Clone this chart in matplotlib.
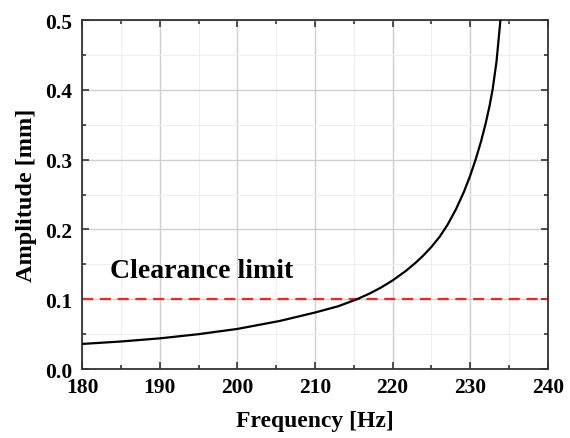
import matplotlib

matplotlib.use("Agg")
import matplotlib.pyplot as plt  # noqa: E402
from matplotlib.ticker import MultipleLocator  # noqa: E402

# Valores
freq = [180, 185, 190, 195, 200, 205.5, 210, 213, 215.4, 217.0, 218.5,
        220.0, 221.7, 223.0, 224.0, 225.0, 226.1, 227.1, 228.2, 229.2,
        230.0, 230.7, 231.4, 232.0, 232.5, 232.9, 233.4, 233.9]
amplitude = [0.036, 0.0395, 0.044, 0.050, 0.0575, 0.069, 0.081, 0.090,
             0.100, 0.108, 0.1167, 0.1269, 0.1405, 0.1526, 0.1631, 0.1749,
             0.190, 0.207, 0.2296, 0.254, 0.277, 0.300, 0.326, 0.352,
             0.377, 0.401, 0.441, 0.500]
clearance_limit = 0.1
x_ticks = [180, 190, 200, 210, 220, 230, 240]
y_ticks = [0.0, 0.1, 0.2, 0.3, 0.4, 0.5]

plt.rcParams["font.family"] = ["Liberation Serif", "DejaVu Serif"]
plt.rcParams["font.weight"] = "bold"

fig = plt.figure(figsize=(5.7, 4.39), dpi=100)
ax = fig.add_axes([0.144, 0.157, 0.817, 0.795])

ax.plot(freq, amplitude, color="black", lw=1.6, zorder=3,
        solid_joinstyle="round")
ax.axhline(clearance_limit, color="#ff2020", lw=1.6, ls=(0, (5, 3)), zorder=2)
ax.text(183.6, 0.141, "Clearance limit", fontsize=20, fontweight="bold",
        va="center", ha="left")

ax.set_xlim(180, 240)
ax.set_ylim(0, 0.5)
ax.set_xticks(x_ticks)
ax.set_yticks(y_ticks)
ax.set_xticklabels([str(v) for v in x_ticks])
ax.set_yticklabels([f"{v:.1f}" for v in y_ticks])
ax.xaxis.set_minor_locator(MultipleLocator(5))
ax.yaxis.set_minor_locator(MultipleLocator(0.05))
ax.tick_params(which="both", direction="in", top=True, right=True,
               labelsize=15.5, width=1.2, color="#333333")
ax.tick_params(which="major", length=5)
ax.tick_params(which="minor", length=3)
ax.tick_params(axis="x", which="major", pad=6)
ax.tick_params(axis="y", which="major", pad=7)
for lbl in ax.get_xticklabels() + ax.get_yticklabels():
    lbl.set_fontweight("bold")

ax.grid(which="major", color="#cfcfcf", lw=1.0)
ax.grid(which="minor", color="#efefef", lw=0.8)
ax.set_axisbelow(True)
for s in ax.spines.values():
    s.set_linewidth(1.3)
    s.set_color("#333333")

ax.set_xlabel("Frequency [Hz]", fontsize=17, fontweight="bold", labelpad=9)
ax.set_ylabel("Amplitude [mm]", fontsize=17.5, fontweight="bold", labelpad=6)

fig.savefig("out.png", dpi=100)
plt.close(fig)
